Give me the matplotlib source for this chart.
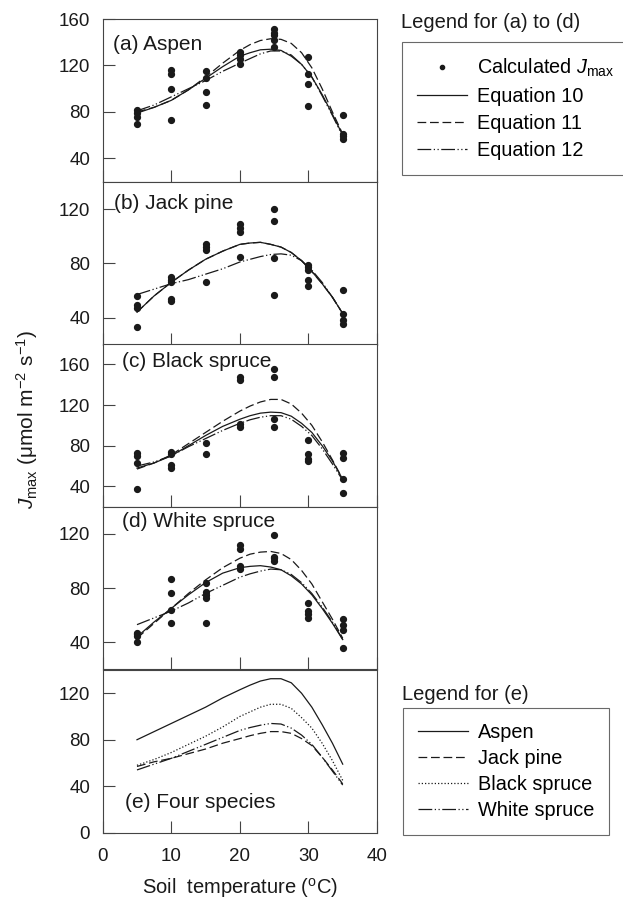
import matplotlib
matplotlib.use('Agg')
import matplotlib.pyplot as plt
from matplotlib.lines import Line2D

plt.rcParams['font.family'] = ['Liberation Sans', 'DejaVu Sans']
plt.rcParams['mathtext.fontset'] = 'custom'
plt.rcParams['mathtext.rm'] = 'Liberation Sans'
plt.rcParams['mathtext.it'] = 'Liberation Sans:italic'

# ---- data ----
temp = [5, 10, 15, 20, 25, 30, 35]
curve_t = [5, 7.5, 10, 12.5, 15, 17.5, 20, 21.5, 23, 24.5, 26, 27.5, 29, 30.5, 32, 33.5, 35]

# calculated Jmax points, one list per soil temperature
aspen_pts = [[82, 79, 76, 70], [116, 113, 100, 73], [115, 109, 97, 86],
             [132, 129, 126, 121], [151, 148, 146, 142, 136],
             [127, 113, 104, 85], [77, 61, 59, 57]]
jack_pts = [[56, 49, 47, 33], [70, 68, 66, 54, 52], [94, 92, 90, 66],
            [109, 106, 103, 85], [120, 111, 84, 57],
            [79, 77, 75, 68, 63], [60, 43, 38, 35]]
black_pts = [[73, 70, 63, 37], [74, 72, 61, 58], [83, 72],
             [148, 145, 101, 98], [155, 148, 106, 98],
             [86, 72, 67, 65], [73, 68, 47, 33]]
white_pts = [[47, 46, 45, 40], [87, 76, 64, 54], [84, 77, 75, 73, 54],
             [112, 109, 96, 94], [119, 103, 102, 100],
             [69, 63, 61, 58], [57, 53, 49, 36]]

# fitted curves, equations 10, 11, 12
aspen_eq10 = [79, 84, 90, 99, 109, 119, 128, 131, 133.5, 134, 133, 128, 121, 110, 95, 78, 60]
aspen_eq11 = [80, 84, 90, 99, 110, 122, 133, 138, 141.5, 143, 142.5, 139, 131, 118, 100, 80, 61]
aspen_eq12 = [81, 86, 93, 100, 107, 115, 122, 126, 130, 132.5, 132.5, 129, 121, 110, 94, 77, 59]

jack_eq10 = [44, 56, 66, 75, 83, 89, 94, 95, 95.5, 94, 92, 88, 82, 74, 65, 55, 43]
jack_eq11 = [44, 56, 66, 75, 83, 89, 94, 95, 95.5, 94, 92, 88, 82, 74, 65, 55, 43]
jack_eq12 = [57, 61, 65, 68, 72, 76, 81, 83, 85, 86.5, 87, 86, 82, 75, 66, 55, 43]

black_eq10 = [58, 63, 70, 80, 90, 99, 106, 109.5, 112, 113, 112.5, 109, 102, 93, 80, 65, 47]
black_eq11 = [57, 63, 71, 82, 93, 104, 114, 119, 123, 125.5, 125.5, 121, 112, 100, 84, 66, 47]
black_eq12 = [60, 64, 70, 79, 87, 95, 102, 105.5, 108, 109.5, 109.5, 106, 99, 90, 77, 62, 46]

white_eq10 = [44, 55, 65, 75, 84, 91, 95, 96, 96.5, 95.5, 93.5, 89, 83, 75, 65, 54, 42]
white_eq11 = [43, 54, 65, 76, 86, 95, 102, 105, 106.5, 107, 105.5, 101, 93, 83, 70, 57, 43]
white_eq12 = [53, 58, 63, 69, 76, 82, 88, 90.5, 92.5, 94, 93.5, 90, 84, 76, 66, 55, 42]

# panel (e): four species
e_aspen = [80, 87, 94, 101, 108, 116, 123, 127, 130.5, 132.5, 132.5, 129, 120, 108, 93, 77, 59]
e_jack = [57, 61, 64, 68, 72, 77, 81, 83.5, 85.5, 87, 87, 85.5, 81, 75, 65, 54, 42]
e_black = [58, 63, 69, 76, 83, 91, 100, 104, 108, 110.5, 110.5, 107, 99, 90, 77, 62, 45]
e_white = [54, 59, 64, 70, 76, 82, 88, 90.5, 92.5, 94, 93.5, 90, 84, 76, 65, 53, 41]

panel_titles = ['(a) Aspen', '(b) Jack pine', '(c) Black spruce',
                '(d) White spruce', '(e) Four species']
ylims = [(20, 160), (20, 140), (20, 180), (20, 140), (0, 140)]
yticks = [[40, 80, 120, 160], [40, 80, 120], [40, 80, 120, 160],
          [40, 80, 120], [0, 40, 80, 120]]

ink = '#1a1a1a'
W, H = 623, 901
fig = plt.figure(figsize=(W / 100, H / 100), dpi=100)

dash11 = (7, 3)
dash12 = (11, 2, 1, 2, 1, 2)
dot = (1, 1.6)

left, right = 102.7, 377
tops = [19, 182, 344, 506.7, 670]
ph = 162.7
title_pos = [(0.039, 0.846), (0.041, 0.865), (0.071, 0.89), (0.069, 0.908), (0.081, 0.184)]

pts_all = [aspen_pts, jack_pts, black_pts, white_pts]
eqs_all = [(aspen_eq10, aspen_eq11, aspen_eq12), (jack_eq10, jack_eq11, jack_eq12),
           (black_eq10, black_eq11, black_eq12), (white_eq10, white_eq11, white_eq12)]

axes = []
for i in range(5):
    ax = fig.add_axes([left / W, 1 - (tops[i] + ph) / H, (right - left) / W, ph / H])
    ax.set_xlim(0, 40)
    ax.set_ylim(*ylims[i])
    ax.set_yticks(yticks[i])
    ax.set_xticks([0, 10, 20, 30, 40])
    ax.tick_params(direction='in', length=8.5, width=0.8, color='#444',
                   labelsize=13.5, labelcolor=ink)
    ax.tick_params(axis='x', pad=11)
    ax.tick_params(axis='y', pad=9)
    if i < 4:
        ax.tick_params(axis='x', labelbottom=False)
    for s in ax.spines.values():
        s.set_color('#444')
        s.set_linewidth(0.8)
    ax.text(title_pos[i][0], title_pos[i][1], panel_titles[i], transform=ax.transAxes,
            ha='left', va='center', fontsize=15, color=ink)
    axes.append(ax)

for ax, pts, eqs in zip(axes[:4], pts_all, eqs_all):
    for t, vals in zip(temp, pts):
        ax.plot([t] * len(vals), vals, 'o', ms=4.2, color=ink, zorder=3)
    ax.plot(curve_t, eqs[0], '-', lw=0.9, color=ink)
    ax.plot(curve_t, eqs[1], lw=0.9, color=ink, dashes=dash11)
    ax.plot(curve_t, eqs[2], lw=0.9, color=ink, dashes=dash12)

ax = axes[4]
ax.plot(curve_t, e_aspen, '-', lw=0.9, color=ink)
ax.plot(curve_t, e_jack, lw=0.9, color=ink, dashes=dash11)
ax.plot(curve_t, e_black, lw=0.9, color=ink, dashes=dot)
ax.plot(curve_t, e_white, lw=0.9, color=ink, dashes=dash12)
ax.set_xlabel('Soil  temperature ($^{\\rm o}$C)', fontsize=14.5, color=ink, labelpad=8)

fig.text(27 / W, 1 - 420 / H, '$J_{\\rm max}$ (μmol m$^{-2}$ s$^{-1}$)',
         rotation=90, ha='center', va='center', fontsize=15, color=ink)

# legends
leg_kw = dict(loc='upper left', borderaxespad=0, fancybox=False, edgecolor='#444',
              fontsize=14.3, handlelength=2.5, handletextpad=0.5, borderpad=0.75)

h1 = [Line2D([], [], ls='none', marker='o', ms=3, color=ink),
      Line2D([], [], ls='-', lw=0.9, color=ink),
      Line2D([], [], lw=0.9, color=ink, dashes=dash11),
      Line2D([], [], lw=0.9, color=ink, dashes=dash12)]
l1 = ['Calculated $J_{\\rm max}$', 'Equation 10', 'Equation 11', 'Equation 12']
fig.text(401 / W, 1 - 22 / H, 'Legend for (a) to (d)', ha='left', va='center',
         fontsize=14.5, color=ink)
leg1 = fig.legend(h1, l1, bbox_to_anchor=(402.3 / W, 1 - 41.7 / H),
                  labelspacing=0.4, **leg_kw)
leg1.get_frame().set_linewidth(0.8)

h2 = [Line2D([], [], ls='-', lw=0.9, color=ink),
      Line2D([], [], lw=0.9, color=ink, dashes=dash11),
      Line2D([], [], lw=0.9, color=ink, dashes=dot),
      Line2D([], [], lw=0.9, color=ink, dashes=dash12)]
l2 = ['Aspen', 'Jack pine', 'Black spruce', 'White spruce']
fig.text(402 / W, 1 - 695 / H, 'Legend for (e)', ha='left', va='center',
         fontsize=14.5, color=ink)
leg2 = fig.legend(h2, l2, bbox_to_anchor=(403.3 / W, 1 - 708.3 / H),
                  labelspacing=0.35, **leg_kw)
leg2.get_frame().set_linewidth(0.8)

fig.savefig('out.png', dpi=100)
